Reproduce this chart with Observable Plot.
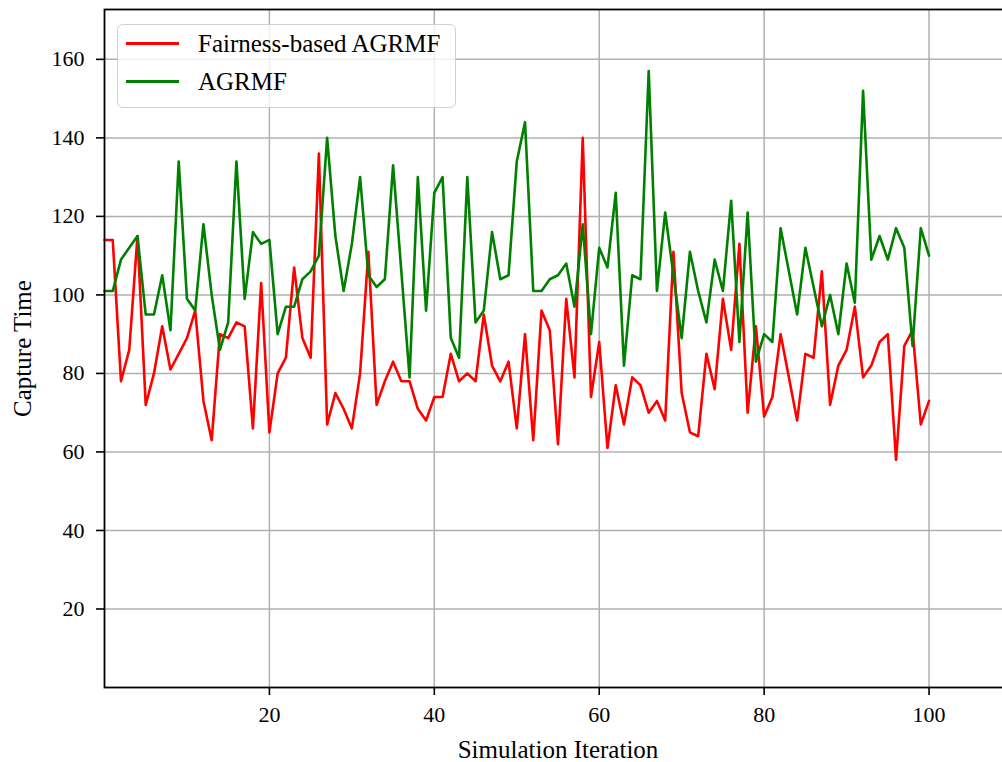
<!DOCTYPE html>
<html>
<head>
<meta charset="utf-8">
<script src="https://cdn.jsdelivr.net/npm/d3@7"></script>
<script src="https://cdn.jsdelivr.net/npm/@observablehq/plot@0.6"></script>
<style>
  html, body { margin: 0; padding: 0; background: #fff; overflow: hidden; }
  #wrap { position: relative; width: 1002px; height: 762px; overflow: hidden; }
  #wrap svg { display: block; max-width: none !important; }
  .legend {
    position: absolute; left: 117px; top: 24px; width: 337px; height: 82px;
    border: 1.5px solid #d0d0d0; border-radius: 6px; background: rgba(255,255,255,0.8);
    font-family: 'Liberation Serif', 'Times New Roman', serif; font-size: 25px; color: #000;
  }
  .legend .sw { position: absolute; left: 8px; width: 53px; height: 2.6px; }
  .legend .lb { position: absolute; left: 80px; line-height: 25px; white-space: nowrap; }
</style>
</head>
<body>
<div id="wrap"></div>
<script>
// Capture time per simulation iteration for the two methods
const seriesNames = ["Fairness-based AGRMF", "AGRMF"];
const seriesColors = ["#ff0000", "#008000"];

const fairnessTimes = [
  114, 114, 78, 86, 115, 72, 80, 92, 81, 85,
  89, 96, 73, 63, 90, 89, 93, 92, 66, 103,
  65, 80, 84, 107, 89, 84, 136, 67, 75, 71,
  66, 80, 111, 72, 78, 83, 78, 78, 71, 68,
  74, 74, 85, 78, 80, 78, 95, 82, 78, 83,
  66, 90, 63, 96, 91, 62, 99, 79, 140, 74,
  88, 61, 77, 67, 79, 77, 70, 73, 68, 111,
  75, 65, 64, 85, 76, 99, 86, 113, 70, 92,
  69, 74, 90, 79, 68, 85, 84, 106, 72, 82,
  86, 97, 79, 82, 88, 90, 58, 87, 91, 67,
  73
];

const agrmfTimes = [
  101, 101, 109, 112, 115, 95, 95, 105, 91, 134,
  99, 96, 118, 100, 86, 93, 134, 99, 116, 113,
  114, 90, 97, 97, 104, 106, 110, 140, 115, 101,
  113, 130, 105, 102, 104, 133, 106, 79, 130, 96,
  126, 130, 89, 84, 130, 93, 96, 116, 104, 105,
  134, 144, 101, 101, 104, 105, 108, 97, 118, 90,
  112, 107, 126, 82, 105, 104, 157, 101, 121, 105,
  89, 111, 101, 93, 109, 101, 124, 88, 121, 83,
  90, 88, 117, 106, 95, 112, 102, 92, 100, 90,
  108, 98, 152, 109, 115, 109, 117, 112, 87, 117,
  110
];

const xTicks = [20, 40, 60, 80, 100];
const yTicks = [20, 40, 60, 80, 100, 120, 140, 160];

const rows = [
  ...fairnessTimes.map((t, i) => ({iteration: i, time: t, method: seriesNames[0]})),
  ...agrmfTimes.map((t, i) => ({iteration: i, time: t, method: seriesNames[1]}))
];

const serif = "'Liberation Serif', 'Times New Roman', serif";
const gridStyle = {stroke: "#b0b0b0", strokeOpacity: 1, strokeWidth: 1.5};

const chart = Plot.plot({
  width: 1012,
  height: 762,
  marginLeft: 104,
  marginRight: 1,
  marginTop: 9,
  marginBottom: 75,
  x: {domain: [0, 110]},
  y: {domain: [0, 172.7]},
  color: {domain: seriesNames, range: seriesColors},
  style: {fontFamily: serif, fontSize: "22px", background: "#fff", color: "#000", maxWidth: "none"},
  marks: [
    Plot.gridX(xTicks, gridStyle),
    Plot.gridY(yTicks, gridStyle),
    Plot.line(rows, {x: "iteration", y: "time", z: "method", stroke: "method", strokeWidth: 2.6}),
    Plot.frame({stroke: "#000", strokeWidth: 1.8}),
    Plot.axisX(xTicks, {tickSize: 8, tickPadding: 11, tickFormat: d => String(d), label: null, fontSize: 22, strokeWidth: 1.6}),
    Plot.axisY(yTicks, {tickSize: 8, tickPadding: 12, tickFormat: d => String(d), label: null, fontSize: 22, strokeWidth: 1.6}),
    Plot.text(["Simulation Iteration"], {text: d => d, frameAnchor: "bottom", dy: 62, lineAnchor: "middle", textAnchor: "middle", fontSize: 25}),
    Plot.text(["Capture Time"], {text: d => d, frameAnchor: "left", textAnchor: "middle", lineAnchor: "middle", dx: -82, rotate: -90, fontSize: 25})
  ]
});

const wrap = document.getElementById("wrap");
wrap.appendChild(chart);

// Legend box in the upper-left corner of the plot area
const legend = document.createElement("div");
legend.className = "legend";
seriesNames.forEach((name, i) => {
  const sw = document.createElement("div");
  sw.className = "sw";
  sw.style.top = (17 + i * 38) + "px";
  sw.style.background = seriesColors[i];
  const lb = document.createElement("div");
  lb.className = "lb";
  lb.style.top = (6 + i * 38) + "px";
  lb.textContent = name;
  legend.appendChild(sw);
  legend.appendChild(lb);
});
wrap.appendChild(legend);
</script>
</body>
</html>
